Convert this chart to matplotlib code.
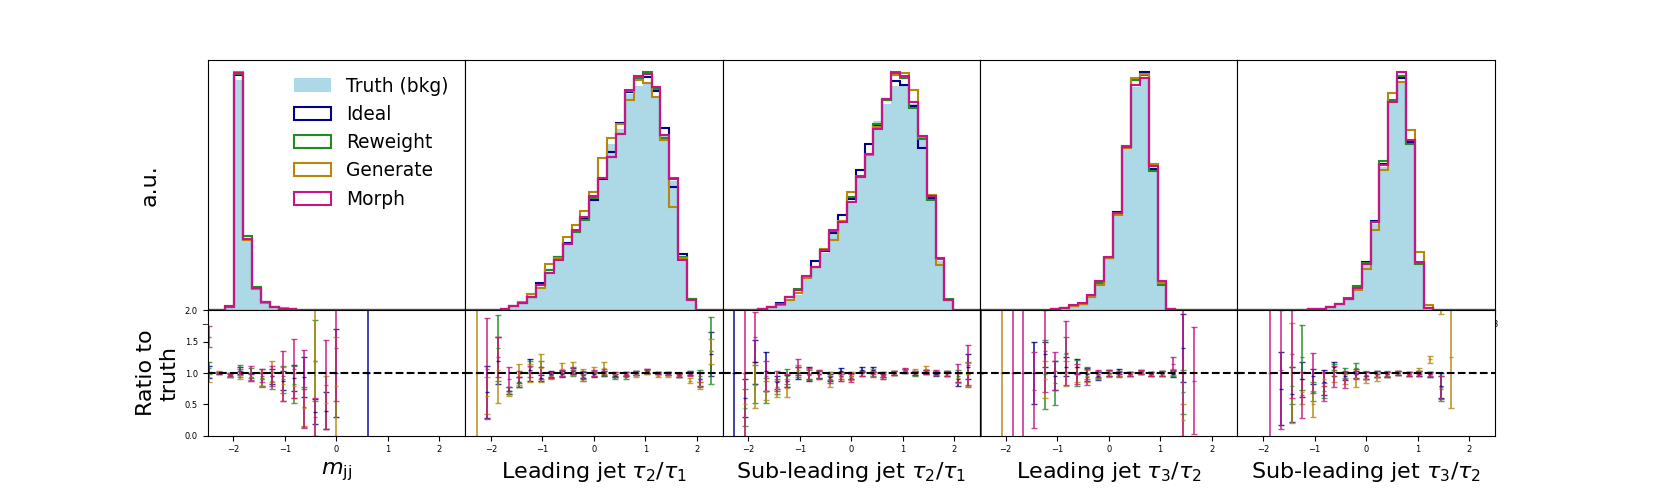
import numpy as np
import matplotlib
matplotlib.use("Agg")
import matplotlib.pyplot as plt

nan = np.nan

# ---------------- labels / names ----------------
panel_labels = [r"$m_{\rm jj}$",
                r"Leading jet $\tau_2/\tau_1$",
                r"Sub-leading jet $\tau_2/\tau_1$",
                r"Leading jet $\tau_3/\tau_2$",
                r"Sub-leading jet $\tau_3/\tau_2$"]
model_names = ["Ideal", "Reweight", "Generate", "Morph"]
truth_name = "Truth (bkg)"
ratio_ticks = [0.0, 0.5, 1.0, 1.5, 2.0]

# ---------------- histogram values (29 bins on [-3, 3]) ----------------
mjj_truth    = [0, 0, 3.0, 230, 70, 22, 8.0, 3.5, 2.0, 1.2, 0.7, 0.4, 0.3, 0.2, 0.1, 0.05, 0.03, 0.02, 0.01, 0, 0, 0, 0, 0, 0, 0, 0, 0, 0]
mjj_ideal    = [0, 0, 3.0, 235, 71, 22, 8.0, 3.4, 1.9, 1.1, 0.7, 0.4, 0.3, 0.2, 0.1, 0.05, 0.03, 0.02, 0.01, 0, 0, 0, 0, 0, 0, 0, 0, 0, 0]
mjj_reweight = [0, 0, 3.2, 236, 74, 23, 8.2, 3.3, 1.8, 1.1, 0.6, 0.4, 0.3, 0.2, 0.1, 0.05, 0.03, 0.02, 0.01, 0, 0, 0, 0, 0, 0, 0, 0, 0, 0]
mjj_generate = [0, 0, 4.0, 238, 70, 21, 7.5, 3.2, 2.0, 1.0, 0.6, 0.4, 0.3, 0.15, 0.1, 0.05, 0.03, 0.02, 0.01, 0, 0, 0, 0, 0, 0, 0, 0, 0, 0]
mjj_morph    = [0, 0, 4.5, 237, 71, 22, 8.0, 3.3, 1.9, 1.1, 0.7, 0.4, 0.3, 0.2, 0.1, 0.05, 0.03, 0.02, 0.01, 0, 0, 0, 0, 0, 0, 0, 0, 0, 0]

t21a_truth    = [0, 0, 0, 0, 1.0, 4.0, 7.7, 13, 23, 38, 51.7, 66, 80, 93, 113, 132, 167, 182, 217, 225, 229, 215, 175, 130, 53, 11, 0, 0, 0]
t21a_ideal    = [0, 0, 0, 0, 1.0, 4.0, 7.5, 13.5, 27.7, 40, 53, 67, 80, 93, 111, 132, 159, 188, 219, 233, 234, 220, 183, 123.3, 56.7, 11, 0, 0, 0]
t21a_reweight = [0, 0, 0, 0, 1.0, 4.0, 7.5, 13, 25, 40, 53, 66, 79, 91, 113, 133, 154, 177, 220, 233, 239, 222, 172.7, 132.3, 53, 11.7, 0, 0, 0]
t21a_generate = [0, 0, 0, 0, 1.3, 4.5, 8.0, 16, 22.7, 46.7, 52.5, 74, 86, 100, 119, 152.7, 173, 187, 210.7, 230.7, 228, 214, 170.7, 103.3, 52, 10, 0, 0, 0]
t21a_morph    = [0, 0, 0, 0, 1.0, 4.0, 7.7, 13.5, 25, 37.3, 50.7, 66.7, 80.7, 94, 115, 133, 154, 177, 220.7, 235, 237, 224, 176, 131.7, 50, 10, 0, 0, 0]

t21b_truth    = [0, 0, 0, 0, 1.5, 3.0, 5.0, 11.7, 15, 33, 43, 58, 80, 90, 110, 133, 156.7, 190, 207.3, 225, 226.7, 206.7, 175, 113.3, 50, 10, 0, 0, 0]
t21b_ideal    = [0, 0, 0, 0, 1.5, 3.3, 7.3, 13.3, 20, 34, 49.3, 60, 78, 95.7, 112, 141, 167.3, 185, 211, 230, 225.7, 205, 162.7, 113, 52, 10, 0, 0, 0]
t21b_reweight = [0, 0, 0, 0, 1.5, 3.2, 6.5, 13, 21.7, 34, 44, 61, 80, 88.3, 113.3, 135, 157, 187.3, 211, 239.3, 233, 202.7, 172, 110.7, 52, 11.5, 0, 0, 0]
t21b_generate = [0, 0, 0, 0, 1.5, 3.0, 5.5, 10.7, 17.3, 32.5, 44, 61.7, 70.7, 90, 119, 134, 155.7, 184, 212.3, 236, 238.3, 220.7, 174, 116, 45.7, 10, 0, 0, 0]
t21b_morph    = [0, 0, 0, 0, 1.5, 3.3, 6.0, 13.3, 20.7, 34.3, 43.3, 60.7, 80.7, 88.3, 109, 134, 156.7, 181.7, 211.7, 238.3, 235, 209, 175, 115, 52.7, 10, 0, 0, 0]

t32a_truth    = [0, 0, 0, 0, 0, 0, 0, 0, 1.0, 2.7, 4.0, 6.0, 13.3, 26.7, 51.7, 95, 160, 221.7, 230.7, 141.7, 26.7, 1.5, 0, 0, 0, 0, 0, 0, 0]
t32a_ideal    = [0, 0, 0, 0, 0, 0, 0, 0, 1.0, 2.7, 4.5, 6.5, 14.5, 28.5, 52.5, 97.7, 162, 229, 237.3, 141, 27, 1.5, 0, 0, 0, 0, 0, 0, 0]
t32a_reweight = [0, 0, 0, 0, 0, 0, 0, 0, 1.0, 2.7, 4.5, 6.5, 14, 27, 52, 96, 163.3, 229, 234, 138.3, 25, 1.5, 0, 0, 0, 0, 0, 0, 0]
t32a_generate = [0, 0, 0, 0, 0, 0, 0, 0, 1.0, 2.5, 4.0, 6.0, 13.3, 25, 51.7, 95, 161, 230.7, 235, 145.7, 27, 1.7, 0, 0, 0, 0, 0, 0, 0]
t32a_morph    = [0, 0, 0, 0, 0, 0, 0, 0, 1.0, 2.8, 5.0, 7.3, 15.7, 29.3, 53.3, 96.7, 162.7, 224, 230.7, 144, 29.3, 1.7, 0, 0, 0, 0, 0, 0, 0]

t32b_truth    = [0, 0, 0, 0, 0, 0, 0, 0, 1.0, 1.7, 3.3, 6.0, 11, 21.5, 45, 86.7, 143.3, 206.7, 228.3, 168.3, 48.3, 2.7, 0, 0, 0, 0, 0, 0, 0]
t32b_ideal    = [0, 0, 0, 0, 0, 0, 0, 0, 1.0, 1.7, 3.3, 6.0, 11.5, 23, 48.3, 89.3, 146, 209, 231.7, 168.3, 47, 2.7, 0, 0, 0, 0, 0, 0, 0]
t32b_reweight = [0, 0, 0, 0, 0, 0, 0, 0, 1.0, 1.7, 3.5, 6.5, 12.3, 24.3, 47, 88, 149, 210, 234, 166, 46.7, 2.7, 0, 0, 0, 0, 0, 0, 0]
t32b_generate = [0, 0, 0, 0, 0, 0, 0, 0, 1.0, 1.7, 3.3, 6.0, 11, 20.7, 41.7, 80, 140, 216.7, 228.3, 180, 58.3, 5.0, 0, 0, 0, 0, 0, 0, 0]
t32b_morph    = [0, 0, 0, 0, 0, 0, 0, 0, 1.0, 1.7, 3.5, 6.0, 11.7, 22.7, 46.7, 88.3, 145, 208.3, 238.3, 170, 48.3, 2.7, 0, 0, 0, 0, 0, 0, 0]

# ---------------- ratio values / errors (bins 2..26, inside [-2.5, 2.5]) ----------------
mjj_r_ideal    = [1.02, 1.00, 0.97, 1.04, 0.93, 0.90, 0.95, 0.88, 0.92, 0.94, 0.38, 0.40, 1.00, nan, nan, 1.00, nan, nan, nan, nan, nan, nan, nan, nan, nan]
mjj_e_ideal    = [0.10, 0.02, 0.03, 0.05, 0.05, 0.10, 0.12, 0.15, 0.21, 0.32, 0.20, 0.30, 0.70, nan, nan, 1.50, nan, nan, nan, nan, nan, nan, nan, nan, nan]
mjj_r_reweight = [1.08, 1.00, 0.97, 1.03, 1.00, 0.92, 0.88, 0.90, 0.82, 0.46, 1.20, nan, nan, nan, nan, nan, nan, nan, nan, nan, nan, nan, nan, nan, nan]
mjj_e_reweight = [0.09, 0.02, 0.03, 0.10, 0.08, 0.14, 0.13, 0.22, 0.30, 0.32, 0.65, nan, nan, nan, nan, nan, nan, nan, nan, nan, nan, nan, nan, nan, nan]
mjj_r_generate = [0.94, 1.02, 0.97, 0.97, 0.94, 0.91, 1.02, 0.82, 0.80, 0.45, 1.20, 0.53, 0.79, nan, nan, nan, nan, nan, nan, nan, nan, nan, nan, nan, nan]
mjj_e_generate = [0.08, 0.02, 0.03, 0.07, 0.06, 0.11, 0.17, 0.27, 0.20, 0.30, 1.20, 0.42, 0.79, nan, nan, nan, nan, nan, nan, nan, nan, nan, nan, nan, nan]
mjj_r_morph    = [1.58, 1.00, 0.97, 1.02, 1.00, 0.96, 0.96, 0.95, 1.07, 0.75, 0.30, 0.81, 1.40, nan, nan, nan, nan, nan, nan, nan, nan, nan, nan, nan, nan]
mjj_e_morph    = [0.17, 0.02, 0.02, 0.05, 0.11, 0.11, 0.16, 0.40, 0.47, 0.62, 0.30, 0.71, 0.85, nan, nan, nan, nan, nan, nan, nan, nan, nan, nan, nan, nan]

t21a_r_ideal    = [nan, nan, 0.70, 1.20, 0.72, 0.85, 1.05, 0.92, 0.98, 0.98, 1.03, 0.97, 0.98, 1.00, 0.96, 0.99, 1.00, 1.03, 1.00, 0.99, 0.97, 1.00, 0.90, 1.30, nan]
t21a_e_ideal    = [nan, nan, 0.42, 0.38, 0.05, 0.08, 0.17, 0.05, 0.05, 0.05, 0.05, 0.05, 0.04, 0.04, 0.03, 0.03, 0.03, 0.03, 0.02, 0.02, 0.03, 0.03, 0.10, 0.35, nan]
t21a_r_reweight = [nan, nan, nan, 1.40, 0.72, 0.85, 1.10, 1.10, 0.97, 1.00, 1.00, 0.93, 1.00, 1.00, 0.93, 0.94, 1.00, 1.02, 1.00, 0.99, 0.97, 1.00, 0.95, 1.36, nan]
t21a_e_reweight = [nan, nan, nan, 0.52, 0.05, 0.08, 0.10, 0.10, 0.05, 0.05, 0.05, 0.05, 0.04, 0.04, 0.03, 0.03, 0.03, 0.03, 0.02, 0.02, 0.03, 0.03, 0.10, 0.54, nan]
t21a_r_generate = [nan, 1.00, 0.64, 1.05, 0.68, 0.98, 1.00, 1.08, 0.95, 1.06, 1.07, 0.97, 1.02, 1.08, 0.98, 0.99, 0.97, 1.02, 0.96, 0.97, 0.96, 0.88, 0.80, 1.35, nan]
t21a_e_generate = [nan, 1.50, 0.30, 0.53, 0.04, 0.17, 0.15, 0.22, 0.05, 0.10, 0.10, 0.09, 0.07, 0.10, 0.04, 0.03, 0.03, 0.03, 0.03, 0.03, 0.03, 0.04, 0.05, 0.20, nan]
t21a_r_morph    = [nan, nan, 1.07, 1.25, 0.91, 0.94, 1.02, 1.00, 0.97, 1.00, 1.04, 0.97, 1.00, 1.02, 0.97, 0.99, 1.00, 1.03, 1.00, 0.99, 0.96, 0.98, 0.90, nan, nan]
t21a_e_morph    = [nan, nan, 0.81, 0.32, 0.19, 0.10, 0.09, 0.10, 0.05, 0.05, 0.05, 0.06, 0.05, 0.05, 0.04, 0.03, 0.03, 0.03, 0.02, 0.02, 0.03, 0.03, 0.12, nan, nan]

t21b_r_ideal    = [nan, 1.00, 0.60, 1.17, 1.03, 0.85, 0.87, 1.00, 0.99, 0.98, 0.93, 1.03, 0.95, 1.05, 1.05, 0.97, 1.00, 1.03, 1.00, 1.02, 0.98, 1.00, 0.90, 1.10, nan]
t21b_e_ideal    = [nan, 1.50, 0.30, 0.35, 0.31, 0.10, 0.10, 0.10, 0.11, 0.06, 0.06, 0.05, 0.05, 0.04, 0.04, 0.04, 0.03, 0.03, 0.03, 0.03, 0.03, 0.04, 0.10, 0.20, nan]
t21b_r_reweight = [nan, nan, 0.45, 0.83, 0.72, 0.78, 0.95, 1.02, 0.97, 0.98, 0.95, 0.96, 0.96, 1.00, 1.00, 0.97, 1.00, 1.03, 0.98, 1.02, 1.00, 1.00, 0.95, 0.98, nan]
t21b_e_reweight = [nan, nan, 0.30, 0.30, 0.20, 0.12, 0.12, 0.08, 0.08, 0.06, 0.06, 0.05, 0.05, 0.04, 0.04, 0.04, 0.03, 0.03, 0.03, 0.03, 0.03, 0.04, 0.10, 0.20, nan]
t21b_r_generate = [nan, nan, 0.50, 0.81, 0.72, 0.75, 0.76, 1.05, 0.98, 0.98, 0.90, 0.93, 0.95, 1.00, 1.02, 0.95, 1.00, 1.03, 1.04, 1.06, 1.00, 1.00, 0.92, 0.98, nan]
t21b_e_generate = [nan, nan, 0.50, 0.36, 0.15, 0.13, 0.14, 0.08, 0.08, 0.07, 0.12, 0.06, 0.06, 0.04, 0.04, 0.04, 0.03, 0.03, 0.03, 0.05, 0.03, 0.04, 0.08, 0.18, nan]
t21b_r_morph    = [nan, nan, 1.00, 1.58, 0.96, 0.88, 0.88, 1.10, 0.99, 0.98, 0.90, 0.95, 0.92, 1.00, 0.98, 0.95, 1.00, 1.05, 1.00, 1.02, 1.02, 1.00, 1.00, 1.13, nan]
t21b_e_morph    = [nan, nan, 1.05, 0.40, 0.24, 0.16, 0.10, 0.13, 0.09, 0.07, 0.06, 0.07, 0.06, 0.04, 0.04, 0.04, 0.03, 0.03, 0.03, 0.03, 0.03, 0.04, 0.15, 0.32, nan]

t32a_r_ideal    = [1.00, nan, nan, nan, nan, 1.00, 1.30, 0.96, 1.10, 1.10, 0.98, 0.95, 1.00, 1.02, 0.99, 1.02, 0.98, 1.00, 0.98, 1.40, nan, nan, nan, nan, nan]
t32a_e_ideal    = [2.00, nan, nan, nan, nan, 0.49, 0.20, 0.23, 0.15, 0.12, 0.10, 0.06, 0.05, 0.04, 0.03, 0.03, 0.03, 0.04, 0.05, 0.55, nan, nan, nan, nan, nan]
t32a_r_reweight = [1.00, nan, nan, nan, nan, nan, 0.98, 0.84, 1.30, 1.00, 1.00, 0.98, 1.00, 0.99, 0.99, 1.01, 0.98, 0.99, 1.00, 0.70, nan, nan, nan, nan, nan]
t32a_e_reweight = [2.00, nan, nan, nan, nan, nan, 0.55, 0.35, 0.28, 0.21, 0.10, 0.06, 0.05, 0.04, 0.03, 0.03, 0.03, 0.04, 0.05, 0.35, nan, nan, nan, nan, nan]
t32a_r_generate = [1.00, nan, 1.00, nan, nan, nan, 0.90, nan, 1.00, 0.98, 0.95, 0.97, 0.98, 1.00, 0.99, 1.02, 0.98, 1.00, 1.02, 0.25, nan, nan, nan, nan, nan]
t32a_e_generate = [2.00, nan, 2.00, nan, nan, nan, 0.30, nan, 0.20, 0.12, 0.10, 0.06, 0.05, 0.04, 0.03, 0.03, 0.03, 0.04, 0.05, 0.25, nan, nan, nan, nan, nan]
t32a_r_morph    = [1.00, nan, nan, 1.00, 1.00, 0.73, 1.35, 1.03, 1.32, 0.98, 0.94, 0.99, 1.00, 0.98, 0.99, 1.02, 0.98, 1.00, 1.15, 1.00, 0.88, nan, nan, nan, nan]
t32a_e_morph    = [2.00, nan, nan, 2.00, 2.00, 0.60, 0.65, 0.30, 0.51, 0.16, 0.13, 0.06, 0.05, 0.04, 0.03, 0.03, 0.03, 0.04, 0.10, 1.50, 0.85, nan, nan, nan, nan]

t32b_r_ideal    = [nan, nan, nan, nan, 0.75, 0.66, 0.90, 0.95, 0.85, 1.10, 0.95, 0.98, 0.96, 0.98, 0.98, 1.00, 0.99, 0.99, 0.98, 0.80, nan, nan, nan, nan, nan]
t32b_e_ideal    = [nan, nan, nan, nan, 0.58, 0.44, 0.28, 0.12, 0.20, 0.08, 0.06, 0.06, 0.06, 0.05, 0.04, 0.03, 0.03, 0.04, 0.04, 0.20, nan, nan, nan, nan, nan]
t32b_r_reweight = [nan, nan, nan, nan, nan, 0.80, 1.25, 0.70, 0.72, 1.05, 1.00, 1.08, 0.97, 0.98, 0.99, 1.00, 0.99, 1.00, 0.98, 0.75, nan, nan, nan, nan, nan]
t32b_e_reweight = [nan, nan, nan, nan, nan, 0.30, 0.52, 0.15, 0.12, 0.10, 0.08, 0.08, 0.06, 0.05, 0.04, 0.03, 0.03, 0.04, 0.04, 0.20, nan, nan, nan, nan, nan]
t32b_r_generate = [nan, nan, nan, nan, nan, 1.00, 0.70, 0.51, 0.90, 0.95, 0.90, 0.92, 0.90, 0.93, 0.98, 1.00, 0.99, 1.03, 1.22, 2.30, 1.25, nan, nan, nan, nan]
t32b_e_generate = [nan, nan, nan, nan, nan, 0.80, 0.20, 0.21, 0.10, 0.10, 0.08, 0.14, 0.06, 0.05, 0.04, 0.03, 0.03, 0.05, 0.06, 0.35, 0.80, nan, nan, nan, nan]
t32b_r_morph    = [nan, nan, nan, 1.00, 1.05, 1.30, 0.65, 1.00, 0.79, 0.95, 0.90, 0.98, 0.96, 0.98, 0.98, 1.00, 0.99, 0.99, 0.98, 0.77, nan, nan, nan, nan, nan]
t32b_e_morph    = [nan, nan, nan, 2.00, 0.95, 0.70, 0.37, 0.32, 0.23, 0.17, 0.14, 0.08, 0.06, 0.05, 0.04, 0.03, 0.03, 0.04, 0.03, 0.18, nan, nan, nan, nan, nan]

# ---------------- styling ----------------
truth_color = "lightblue"
model_colors = ["darkblue", "forestgreen", "darkgoldenrod", "mediumvioletred"]

hists = [
    (mjj_truth, [mjj_ideal, mjj_reweight, mjj_generate, mjj_morph]),
    (t21a_truth, [t21a_ideal, t21a_reweight, t21a_generate, t21a_morph]),
    (t21b_truth, [t21b_ideal, t21b_reweight, t21b_generate, t21b_morph]),
    (t32a_truth, [t32a_ideal, t32a_reweight, t32a_generate, t32a_morph]),
    (t32b_truth, [t32b_ideal, t32b_reweight, t32b_generate, t32b_morph]),
]
ratios = [
    [(mjj_r_ideal, mjj_e_ideal), (mjj_r_reweight, mjj_e_reweight), (mjj_r_generate, mjj_e_generate), (mjj_r_morph, mjj_e_morph)],
    [(t21a_r_ideal, t21a_e_ideal), (t21a_r_reweight, t21a_e_reweight), (t21a_r_generate, t21a_e_generate), (t21a_r_morph, t21a_e_morph)],
    [(t21b_r_ideal, t21b_e_ideal), (t21b_r_reweight, t21b_e_reweight), (t21b_r_generate, t21b_e_generate), (t21b_r_morph, t21b_e_morph)],
    [(t32a_r_ideal, t32a_e_ideal), (t32a_r_reweight, t32a_e_reweight), (t32a_r_generate, t32a_e_generate), (t32a_r_morph, t32a_e_morph)],
    [(t32b_r_ideal, t32b_e_ideal), (t32b_r_reweight, t32b_e_reweight), (t32b_r_generate, t32b_e_generate), (t32b_r_morph, t32b_e_morph)],
]

edges = np.linspace(-3, 3, 30)
centers = 0.5 * (edges[:-1] + edges[1:])
rcenters = centers[2:27]

fig, axes = plt.subplots(2, 5, figsize=(16.61, 4.98), dpi=100,
                         gridspec_kw=dict(height_ratios=[2, 1], hspace=0, wspace=0,
                                          left=0.125, right=0.9, top=0.88, bottom=0.125))

for j in range(5):
    ax = axes[0, j]
    truth, models = hists[j]
    ax.hist(centers, bins=edges, weights=truth, color=truth_color, label=truth_name)
    for vals, c, name in zip(models, model_colors, model_names):
        ax.hist(centers, bins=edges, weights=vals, histtype="step", color=c, lw=1.5, label=name)
    ax.set_xlim(edges[0], edges[-1])
    ax.set_yticks([])
    ax.tick_params(axis="x", labelsize=6)

    rax = axes[1, j]
    for (rv, re), c in zip(ratios[j], model_colors):
        rax.errorbar(rcenters, rv, yerr=re, fmt="_", color=c, ecolor=c, capsize=2,
                     elinewidth=1.3, markersize=3, alpha=0.8)
    rax.axhline(1.0, color="k", ls="--", lw=1.5, zorder=5)
    rax.set_xlim(-2.5, 2.5)
    rax.set_ylim(0, 2)
    rax.set_yticks(ratio_ticks)
    rax.set_xticks([-2, -1, 0, 1, 2])
    rax.tick_params(axis="both", labelsize=6)
    rax.set_xlabel(panel_labels[j], fontsize=16)
    if j > 0:
        rax.tick_params(axis="y", left=False, labelleft=False)

axes[0, 0].set_ylabel("a.u.", fontsize=16)
axes[0, 0].yaxis.set_label_coords(-0.185, 0.5)
axes[1, 0].set_ylabel("Ratio to\ntruth", fontsize=16)
axes[0, 0].legend(fontsize=13.4, frameon=False, loc="upper right")

fig.savefig("out.png", dpi=100)
